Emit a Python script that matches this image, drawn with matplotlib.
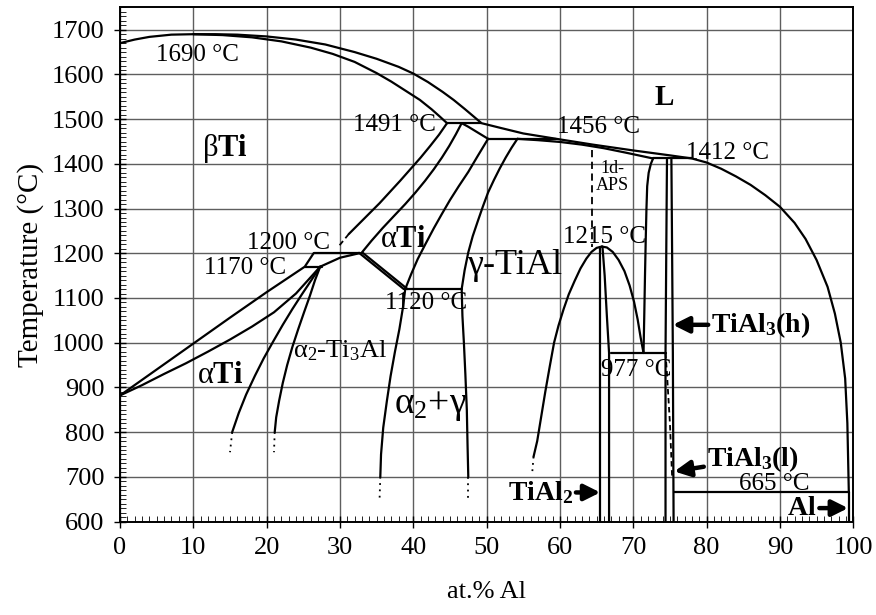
import matplotlib
matplotlib.use("Agg")
import matplotlib.pyplot as plt
from matplotlib.ticker import MultipleLocator

plt.rcParams["font.family"] = ["Liberation Serif", "DejaVu Serif"]
plt.rcParams["mathtext.fontset"] = "custom"
plt.rcParams["mathtext.rm"] = "Liberation Serif"
plt.rcParams["mathtext.it"] = "Liberation Serif:italic"
plt.rcParams["mathtext.bf"] = "Liberation Serif:bold"

# ---- phase boundaries (at.% Al, temperature in degC) ----
liquidus_x = [0, 2, 4, 7, 10, 13, 16, 20, 24, 28, 32, 35, 38, 40, 42, 44, 45.5, 47, 48.3, 49.3,
              52, 55, 59.5, 64.5, 70, 75, 78,
              80, 82, 84, 86, 88, 90, 92, 93.5, 95, 96.5, 97.5, 98.3, 98.9, 99.2, 99.4]
liquidus_t = [1670, 1678, 1684, 1689, 1690, 1690, 1689, 1685, 1678, 1667, 1650, 1635, 1617, 1602, 1583, 1561, 1543, 1523, 1505, 1491,
              1480, 1468, 1456, 1443, 1430, 1419, 1412,
              1403, 1389, 1372, 1353, 1330, 1304, 1268, 1232, 1185, 1125, 1065, 1000, 920, 820, 665]

beta_solidus_x = [10, 14, 18, 22, 26, 29, 32, 35, 37, 39, 40.9, 42.5, 43.6, 44.6]
beta_solidus_t = [1690, 1688, 1683, 1674, 1660, 1646, 1628, 1603, 1584, 1563, 1543, 1522, 1506, 1491]

beta_transus_x = [44.6, 43.5, 42.3, 41, 39.6, 38.2, 36.8, 35.4, 34, 32.6, 31.2]
beta_transus_t = [1491, 1465, 1440, 1414, 1388, 1362, 1337, 1312, 1289, 1266, 1243]
beta_transus_dash_x = [31.2, 29.8]
beta_transus_dash_t = [1243, 1215]

alpha_transus_x = [46.6, 45.8, 44.9, 43.9, 42.8, 41.6, 40.3, 38.9, 37.4, 35.8, 34.3, 32.9]
alpha_transus_t = [1491, 1466, 1440, 1414, 1388, 1362, 1336, 1310, 1284, 1256, 1228, 1200]

alpha_solidus_x = [46.6, 47.5, 48.4, 49.3, 50.2]
alpha_solidus_t = [1491, 1483, 1474, 1465, 1456]

alpha_gamma_x = [50.2, 48.8, 47.5, 46.2, 45, 43.9, 42.8, 41.7, 40.6, 39.7, 38.9]
alpha_gamma_t = [1456, 1418, 1382, 1350, 1319, 1288, 1256, 1222, 1187, 1153, 1120]

gamma_left_x = [54.2, 53.4, 52.6, 51.8, 51.0, 50.2, 49.5, 48.8, 48.1, 47.5, 47.0, 46.6,
                46.7, 46.9, 47.1, 47.3, 47.4, 47.5]
gamma_left_t = [1456, 1436, 1414, 1390, 1364, 1336, 1305, 1272, 1238, 1202, 1162, 1120,
                1060, 1000, 930, 850, 770, 700]

alpha2_right_x = [38.9, 38.6, 38.1, 37.5, 36.9, 36.4, 35.9, 35.6, 35.5]
alpha2_right_t = [1120, 1080, 1030, 980, 925, 870, 810, 750, 700]

alpha2_diag_a_x = [32.6, 38.7]
alpha2_diag_a_t = [1201, 1120]
alpha2_diag_b_x = [33.1, 39.2]
alpha2_diag_b_t = [1201, 1120]

ti_upper_x = [0, 5, 10, 15, 20, 25.2, 26.4]
ti_upper_t = [882, 940, 998, 1056, 1113, 1170, 1200]
ti_lower_x = [0, 3, 6, 9, 12, 15, 18, 21, 24, 27.3]
ti_lower_t = [882, 905, 930, 954, 980, 1007, 1036, 1068, 1110, 1170]
alpha2_upper_x = [27.3, 30, 32.6]
alpha2_upper_t = [1170, 1190, 1200]

fan_left_x = [27.3, 26.1, 24.8, 23.5, 22.2, 20.9, 19.6, 18.4, 17.2, 16.2, 15.3]
fan_left_t = [1170, 1140, 1108, 1075, 1040, 1003, 965, 926, 884, 843, 800]
fan_right_x = [27.3, 26.6, 25.9, 25.1, 24.3, 23.5, 22.8, 22.2, 21.7, 21.3, 21.1]
fan_right_t = [1170, 1140, 1105, 1068, 1030, 990, 950, 910, 870, 833, 800]

gamma_solidus_x = [54.2, 57, 60, 63, 66, 69, 71, 72.7]
gamma_solidus_t = [1456, 1453, 1449, 1443, 1435, 1425, 1418, 1412]

aps_dash_x = [64.4, 64.4]
aps_dash_t = [1431, 1215]

dome_left_x = [65.7, 65.0, 64.3, 63.6, 62.8, 62.0, 61.2, 60.5, 59.8, 59.2, 58.6, 58.0, 57.4, 56.9, 56.4]
dome_left_t = [1215, 1212, 1203, 1188, 1166, 1138, 1108, 1075, 1038, 1000, 946, 890, 830, 780, 745]
dome_right_x = [65.7, 66.4, 67.2, 68.0, 68.8, 69.5, 70.1, 70.6, 71.0, 71.4]
dome_right_t = [1215, 1213, 1203, 1185, 1160, 1128, 1092, 1052, 1012, 977]

tial2_left_x = [65.5, 65.5]
tial2_left_t = [1215, 600]
tial2_right_x = [65.8, 66.1, 66.4, 66.7, 66.7]
tial2_right_t = [1215, 1150, 1060, 977, 600]

lens_left_x = [72.7, 72.4, 72.1, 71.9, 71.8, 71.7, 71.6, 71.5, 71.4]
lens_left_t = [1412, 1400, 1380, 1350, 1300, 1230, 1150, 1060, 977]

tial3_left_x = [74.6, 74.5, 74.4, 74.4]
tial3_left_t = [1412, 1200, 977, 600]
tial3_right_x = [75.2, 75.3, 75.4, 75.5]
tial3_right_t = [1412, 1200, 977, 600]
tial3_dash_x = [74.4, 74.6, 75.0, 75.3]
tial3_dash_t = [977, 930, 820, 700]

al_solvus_x = [99.4, 99.4]
al_solvus_t = [665, 600]

dotted_ends_x = [[15.3, 15.0], [21.1, 21.0], [35.5, 35.4], [47.5, 47.5], [56.4, 56.2]]
dotted_ends_t = [[800, 755], [800, 755], [700, 650], [700, 650], [745, 705]]

# invariant reactions: temperature and composition range
inv_t = [1491, 1456, 1412, 1200, 1170, 1120, 977, 665]
inv_x0 = [44.6, 50.2, 72.7, 26.4, 25.2, 38.9, 67.0, 75.5]
inv_x1 = [49.3, 59.5, 78.0, 32.7, 27.5, 46.6, 74.4, 99.4]

fig = plt.figure(figsize=(8.76, 6.15), dpi=100)
ax = fig.add_axes([0.137, 0.152, 0.837, 0.836])
ax.set_xlim(0, 100)
ax.set_ylim(600, 1750)

ax.xaxis.set_major_locator(MultipleLocator(10))
ax.xaxis.set_minor_locator(MultipleLocator(1))
ax.yaxis.set_minor_locator(MultipleLocator(10))
ax.set_yticks(range(600, 1701, 100))
ax.grid(True, which="major", color="#5e5e5e", lw=1.0)
ax.set_axisbelow(True)
ax.tick_params(which="major", direction="inout", length=8, width=1.0, labelsize=19, pad=7)
ax.tick_params(which="minor", direction="in", length=4, width=0.6)
for s in ax.spines.values():
    s.set_linewidth(1.4)

lc = dict(color="black", lw=1.6, solid_capstyle="round", solid_joinstyle="round")
for xs, ts in [(liquidus_x, liquidus_t), (beta_solidus_x, beta_solidus_t),
               (beta_transus_x, beta_transus_t), (alpha_transus_x, alpha_transus_t),
               (alpha_solidus_x, alpha_solidus_t), (alpha_gamma_x, alpha_gamma_t),
               (gamma_left_x, gamma_left_t), (alpha2_right_x, alpha2_right_t),
               (alpha2_diag_a_x, alpha2_diag_a_t), (alpha2_diag_b_x, alpha2_diag_b_t),
               (ti_upper_x, ti_upper_t), (ti_lower_x, ti_lower_t),
               (alpha2_upper_x, alpha2_upper_t),
               (fan_left_x, fan_left_t), (fan_right_x, fan_right_t),
               (gamma_solidus_x, gamma_solidus_t), (dome_left_x, dome_left_t),
               (dome_right_x, dome_right_t), (tial2_left_x, tial2_left_t),
               (tial2_right_x, tial2_right_t), (lens_left_x, lens_left_t),
               (tial3_left_x, tial3_left_t), (tial3_right_x, tial3_right_t),
               (al_solvus_x, al_solvus_t)]:
    ax.plot(xs, ts, **lc)

ax.plot(beta_transus_dash_x, beta_transus_dash_t, color="black", lw=1.3, ls=(0, (3, 2)))
ax.plot(aps_dash_x, aps_dash_t, color="black", lw=1.3, ls=(0, (4, 2.5)))
ax.plot(tial3_dash_x, tial3_dash_t, color="black", lw=1.3, ls=(0, (3, 2)))
for xs, ts in zip(dotted_ends_x, dotted_ends_t):
    ax.plot(xs, ts, color="black", lw=1.3, ls=(0, (1, 2.5)))

for t, x0, x1 in zip(inv_t, inv_x0, inv_x1):
    ax.plot([x0, x1], [t, t], **lc)

tk = dict(fontsize=18, ha="center", va="center")
ax.text(10.5, 1643, "1690 °C", **tk)
ax.text(37.4, 1487, "1491 °C", **tk)
ax.text(65.2, 1482, "1456 °C", **tk)
ax.text(82.8, 1424, "1412 °C", **tk)
ax.text(66.1, 1236, "1215 °C", **tk)
ax.text(23.0, 1224, "1200 °C", **tk)
ax.text(17.0, 1167, "1170 °C", **tk)
ax.text(41.8, 1088, "1120 °C", **tk)
ax.text(70.4, 938, "977 °C", **tk)
ax.text(89.2, 685, "665 °C", **tk)
ax.text(67.1, 1370, "1d-\nAPS", fontsize=13, ha="center", va="center", linespacing=1.0)

ax.text(74.2, 1548, "L", fontsize=21, fontweight="bold", ha="center", va="center")
ax.text(14.3, 1435, r"β$\mathbf{Ti}$", fontsize=22, ha="center", va="center")
ax.text(38.6, 1230, r"α$\mathbf{Ti}$", fontsize=22, ha="center", va="center")
ax.text(13.6, 926, r"α$\mathbf{Ti}$", fontsize=22, ha="center", va="center")
ax.text(53.8, 1173, "γ-TiAl", fontsize=26, ha="center", va="center")
ax.text(30.0, 983, r"α$_2$-Ti$_3$Al", fontsize=19, ha="center", va="center")
ax.text(42.3, 860, r"α$_2$+γ", fontsize=27, ha="center", va="center")

ak = dict(arrowprops=dict(arrowstyle="-|>", lw=3.2, color="black", mutation_scale=24,
                          shrinkA=0, shrinkB=0),
          fontsize=20, fontweight="bold", va="center")
ax.annotate(r"$\mathbf{TiAl_3(h)}$", xy=(75.4, 1040), xytext=(80.6, 1040), ha="left", **ak)
ax.annotate(r"$\mathbf{TiAl_3(l)}$", xy=(75.6, 712), xytext=(80.0, 740), ha="left", **ak)
ax.annotate(r"$\mathbf{TiAl_2}$", xy=(65.5, 665), xytext=(61.8, 665), ha="right", **ak)
ax.annotate(r"$\mathbf{Al}$", xy=(99.3, 630), xytext=(95.0, 630), ha="right", **ak)

ax.set_xlabel("at.% Al", fontsize=19, labelpad=16)
ax.set_ylabel("Temperature (°C)", fontsize=21, labelpad=6)

fig.savefig("out.png", dpi=100)
